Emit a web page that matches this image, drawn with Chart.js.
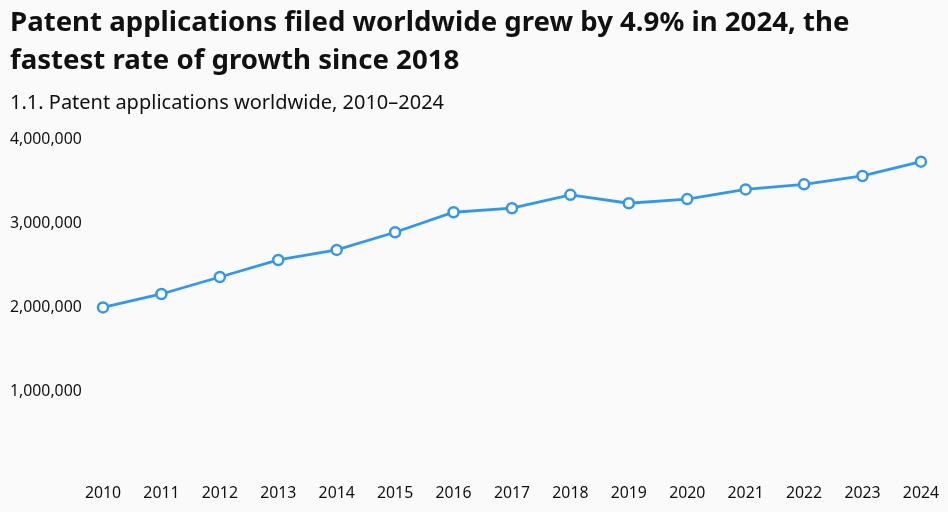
<!DOCTYPE html>
<html>
<head>
<meta charset="utf-8">
<script src="https://cdn.jsdelivr.net/npm/chart.js@4"></script>
<style>
  body { margin: 0; background: #fafafa; font-family: "Noto Sans", sans-serif; }
  #wrap { position: relative; width: 948px; height: 512px; }
  h1 { position: absolute; left: 10px; top: 1px; margin: 0; font-size: 27.6px; line-height: 38px; font-weight: 700; color: #111; }
  h2 { position: absolute; left: 10px; top: 88px; margin: 0; font-size: 20px; line-height: 28px; font-weight: 400; color: #111; }
  canvas { position: absolute; left: 0; top: 0; }
</style>
</head>
<body>
<div id="wrap">
  <canvas id="patentChart" width="948" height="512"></canvas>
  <h1>Patent applications filed worldwide grew by 4.9% in 2024, the<br>fastest rate of growth since 2018</h1>
  <h2>1.1. Patent applications worldwide, 2010–2024</h2>
</div>
<script>
const years = ["2010", "2011", "2012", "2013", "2014", "2015", "2016", "2017",
    "2018", "2019", "2020", "2021", "2022", "2023", "2024"];

const applications = [1995000, 2155000, 2357000, 2560000, 2680000, 2890000, 3128000, 3176000,
    3335000, 3235000, 3285000, 3400000, 3460000, 3560000, 3730000];

const yTicks = [1000000, 2000000, 3000000, 4000000];

const ctx = document.getElementById("patentChart");

new Chart(ctx, {
    type: "line",
    data: {
        labels: years,
        datasets: [{
            label: "Patent applications",
            data: applications,
            borderColor: "#3597ec",
            borderWidth: 2.8,
            tension: 0,
            pointRadius: 5,
            pointBorderWidth: 2.5,
            pointBackgroundColor: "#ffffff",
            pointBorderColor: "#3597ec"
        }]
    },
    options: {
        responsive: false,
        animation: false,
        layout: {
            padding: { top: 139, left: 10, right: 27, bottom: 0 }
        },
        plugins: {
            legend: { display: false },
            tooltip: { enabled: false }
        },
        scales: {
            y: {
                min: 0,
                max: 4000000,
                afterFit: (scale) => { scale.width = 93; },
                afterBuildTicks: (scale) => {
                    scale.ticks = yTicks.map((v) => ({ value: v }));
                },
                grid: { display: false },
                border: { display: false },
                ticks: {
                    crossAlign: "far",
                    color: "#111",
                    font: { family: "Noto Sans", size: 15.8 },
                    callback: (v) => v.toLocaleString("en-US")
                }
            },
            x: {
                afterFit: (scale) => { scale.height = 37; },
                grid: { display: false, drawTicks: false },
                border: { display: false },
                ticks: {
                    padding: 9,
                    maxRotation: 0,
                    color: "#111",
                    font: { family: "Noto Sans", size: 15.8 }
                }
            }
        }
    }
});
</script>
</body>
</html>
